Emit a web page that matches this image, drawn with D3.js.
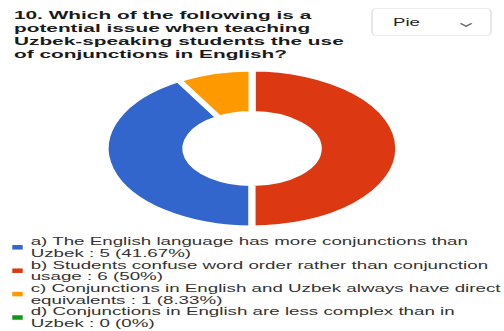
<!DOCTYPE html>
<html>
<head>
<meta charset="utf-8">
<script src="https://cdn.jsdelivr.net/npm/d3@7"></script>
<style>
  html, body { margin: 0; padding: 0; background: #fff; }
  svg { display: block; }
  text { font-family: "Liberation Sans", Arial, sans-serif; }
</style>
</head>
<body>
<svg id="chart" width="504" height="331"></svg>
<script>
// Survey question and answer data
const titleLines = [
  "10. Which of the following is a",
  "potential issue when teaching",
  "Uzbek-speaking students the use",
  "of conjunctions in English?"
];
const categories = [
  "a) The English language has more conjunctions than Uzbek",
  "b) Students confuse word order rather than conjunction usage",
  "c) Conjunctions in English and Uzbek always have direct equivalents",
  "d) Conjunctions in English are less complex than in Uzbek"
];
const counts = [5, 6, 1, 0];
const colors = ["#3366cc", "#dc3912", "#ff9900", "#109618"];
// order in which slices are laid out clockwise from 12 o'clock
const sliceOrder = [1, 0, 2, 3];
const chartTypeLabel = "Pie";

const W = 504, H = 331;
const SX = 1.86; // horizontal stretch of the whole panel
const svg = d3.select("#chart");
const root = svg.append("g").attr("transform", `scale(${SX},1)`);

// Title
const title = root.append("text")
  .attr("x", 7.5)
  .attr("font-size", 11.2)
  .attr("font-weight", "bold")
  .attr("fill", "#1a1a1a");
titleLines.forEach((line, i) => {
  title.append("tspan").attr("x", 7.5).attr("y", 19.5 + i * 12.8).text(line);
});

// Chart-type selector
const sel = root.append("g");
sel.append("rect")
  .attr("x", 200).attr("y", 8.5).attr("width", 64).attr("height", 27)
  .attr("rx", 2.2).attr("ry", 4)
  .attr("fill", "#fff").attr("stroke", "#dadce0").attr("stroke-width", 0.7);
sel.append("text")
  .attr("x", 211.3).attr("y", 26.5)
  .attr("font-size", 10).attr("fill", "#202124")
  .text(chartTypeLabel);
sel.append("path")
  .attr("d", "M247.6,23.3 L250.6,26.2 L253.6,23.3")
  .attr("fill", "none").attr("stroke", "#5f6368").attr("stroke-width", 1.1);

// Donut
const total = d3.sum(counts);
const cx = 135.5, cy = 148.5;
const rOuter = 77, rInner = 37.5, gap = 3.8;
const pie = d3.pie()
  .value(i => counts[i])
  .sort((a, b) => sliceOrder.indexOf(a) - sliceOrder.indexOf(b))
  .startAngle(0).endAngle(2 * Math.PI);
const arc = d3.arc()
  .innerRadius(rInner - gap / 2)
  .outerRadius(rOuter + gap / 2);
root.append("g")
  .attr("transform", `translate(${cx},${cy})`)
  .selectAll("path")
  .data(pie(d3.range(categories.length)).filter(d => d.value > 0))
  .join("path")
  .attr("d", arc)
  .attr("fill", d => colors[d.data])
  .attr("stroke", "#fff")
  .attr("stroke-width", gap)
  .attr("stroke-linejoin", "miter");

// Legend (text set in a slightly condensed group)
const K = 0.9;
const legendX = 16.5, swatchX = 6.6, baseY = 245.3, lineH = 11.7, wrapW = 255;
const legendSw = root.append("g");
const legend = root.append("g")
  .attr("transform", `scale(${K},1)`)
  .attr("font-size", 11.2).attr("fill", "#333");
const measure = legend.append("text").attr("visibility", "hidden");
function wrap(str) {
  const words = str.split(" ");
  const lines = [];
  let cur = "";
  words.forEach(w => {
    const test = cur ? cur + " " + w : w;
    measure.text(test);
    if (cur && measure.node().getComputedTextLength() * K > wrapW) {
      lines.push(cur);
      cur = w;
    } else {
      cur = test;
    }
  });
  if (cur) lines.push(cur);
  return lines;
}
let lineIdx = 0;
categories.forEach((cat, i) => {
  const pct = +(counts[i] / total * 100).toFixed(2);
  const lines = wrap(`${cat} : ${counts[i]} (${pct}%)`);
  const y0 = baseY + lineIdx * lineH;
  legendSw.append("rect")
    .attr("x", swatchX).attr("y", y0 + 2 - 2.25)
    .attr("width", 5.6).attr("height", 4.5)
    .attr("fill", colors[i]);
  const t = legend.append("text");
  lines.forEach((ln, j) => {
    t.append("tspan").attr("x", legendX / K).attr("y", y0 + j * lineH).text(ln);
  });
  lineIdx += lines.length;
});
measure.remove();
</script>
</body>
</html>
